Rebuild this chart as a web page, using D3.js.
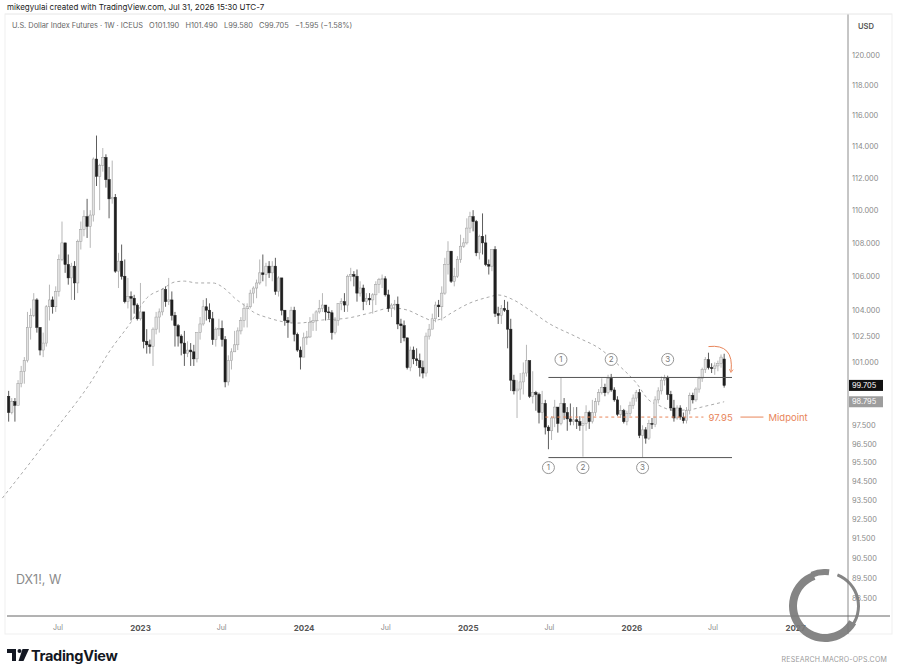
<!DOCTYPE html>
<html>
<head>
<meta charset="utf-8">
<script src="https://cdn.jsdelivr.net/npm/d3@7"></script>
<style>
  html, body { margin: 0; padding: 0; background: #fff; }
  svg { display: block; font-family: Inter, "Open Sans", sans-serif; }
</style>
</head>
<body>
<svg id="chart" width="900" height="670"></svg>
<script>

// weekly DX1! bars, first bar = week of 2022-03-14
const firstWeek = "2022-03-14"
const firstOpen = 99.1
const lastOpen = 101.19

const closes = [
  98.2, 98.8, 98.6, 99.8, 100.5, 101.1, 103.0, 103.7, 104.6, 103.0,
  101.7, 102.1, 104.2, 104.6, 104.2, 105.1, 107.0, 108.0, 106.7, 105.9,
  106.6, 105.6, 108.1, 108.8, 109.6, 109.0, 109.7, 113.2, 112.1, 112.8,
  113.3, 111.9, 110.7, 110.8, 106.3, 106.9, 106.0, 104.5, 104.8, 104.7,
  104.3, 103.5, 103.9, 102.2, 102.0, 101.9, 102.9, 103.6, 103.9, 105.2,
  104.5, 104.6, 103.7, 103.1, 102.5, 102.1, 101.5, 101.7, 101.6, 101.2,
  102.7, 103.2, 104.2, 104.0, 103.5, 102.3, 102.9, 102.95, 102.3, 99.9,
  101.1, 101.6, 102.0, 102.8, 103.4, 104.1, 104.2, 105.0, 105.3, 105.6,
  106.2, 106.1, 106.6, 106.2, 106.6, 105.1, 105.9, 104.0, 103.4, 103.3,
  104.0, 102.6, 101.7, 101.3, 102.4, 102.45, 103.3, 103.4, 103.9, 104.1,
  104.3, 103.9, 103.85, 102.7, 103.4, 104.4, 104.5, 104.3, 106.0, 106.1,
  106.0, 105.0, 105.3, 104.5, 104.7, 104.6, 104.9, 105.5, 105.8, 105.85,
  104.9, 104.1, 104.3, 104.35, 103.2, 103.1, 102.4, 100.7, 101.7, 101.2,
  101.1, 100.7, 100.4, 102.5, 102.9, 103.5, 104.3, 104.2, 105.0, 106.7,
  107.5, 105.7, 106.0, 107.0, 107.8, 108.0, 108.9, 109.6, 109.3, 107.4,
  108.4, 108.0, 106.7, 106.6, 107.6, 103.8, 103.7, 104.1, 104.0, 102.9,
  100.0, 99.4, 99.5, 99.9, 100.4, 101.1, 99.1, 99.3, 99.2, 98.2,
  98.7, 97.4, 97.2, 97.9, 98.5, 97.6, 98.7, 98.2, 97.85, 97.7,
  97.8, 97.7, 97.5, 97.6, 98.2, 97.7, 98.2, 98.8, 99.3, 99.6,
  99.3, 100.1, 99.45, 98.9, 98.1, 98.3, 97.7, 98.15, 98.6, 99.0,
  99.3, 96.95, 97.25, 96.8, 97.6, 97.55, 98.9, 99.4, 100.0, 100.1,
  99.2, 98.45, 97.9, 98.45, 97.95, 97.75, 98.3, 99.15, 98.9, 99.5,
  100.1, 100.6, 101.15, 100.7, 100.65, 100.8, 100.95, 101.3, 99.705
]

const highs = [
  99.4, 99.0, 99.0, 100.0, 100.8, 101.3, 103.9, 104.1, 105.0, 104.7,
  103.0, 102.7, 104.3, 105.5, 104.8, 105.4, 107.3, 109.3, 108.0, 107.3,
  106.8, 106.9, 108.2, 109.3, 110.0, 110.7, 110.0, 113.3, 114.7, 112.9,
  113.9, 113.5, 112.7, 113.1, 111.0, 107.4, 107.9, 107.0, 105.9, 105.1,
  104.9, 104.4, 105.6, 103.9, 102.9, 102.3, 103.0, 103.9, 104.1, 105.3,
  105.4, 105.9, 105.1, 103.9, 103.2, 102.6, 102.8, 102.2, 102.1, 102.0,
  102.7, 103.6, 104.6, 104.7, 104.4, 103.9, 103.0, 103.5, 103.4, 102.5,
  101.4, 101.8, 102.8, 103.0, 103.6, 104.4, 104.4, 105.2, 105.4, 105.8,
  107.0, 107.3, 106.8, 106.9, 106.9, 107.1, 106.0, 105.9, 104.0, 103.6,
  104.2, 104.2, 102.7, 101.9, 102.7, 102.8, 103.6, 103.8, 104.0, 104.6,
  105.0, 104.3, 104.2, 104.0, 103.6, 104.4, 104.7, 105.0, 106.1, 106.5,
  106.3, 106.4, 105.7, 105.5, 105.0, 105.0, 105.0, 105.7, 105.9, 106.1,
  106.0, 105.2, 104.4, 104.6, 104.8, 103.5, 103.4, 102.4, 101.9, 101.9,
  101.8, 101.5, 101.1, 102.7, 103.2, 103.8, 104.5, 104.6, 105.4, 107.1,
  108.1, 107.5, 106.5, 107.2, 108.5, 108.3, 109.5, 109.9, 110.0, 109.4,
  108.5, 109.8, 108.5, 107.0, 107.6, 107.8, 104.2, 104.3, 104.6, 104.5,
  103.5, 100.3, 100.0, 100.4, 101.0, 102.0, 101.1, 100.5, 99.4, 99.3,
  99.4, 98.9, 97.5, 98.0, 98.9, 98.5, 100.15, 99.0, 98.5, 98.7,
  98.5, 98.5, 98.0, 97.9, 98.6, 98.3, 98.9, 99.0, 99.5, 100.1,
  99.8, 100.3, 100.35, 99.6, 99.1, 98.6, 98.4, 98.3, 98.8, 99.2,
  99.45, 99.5, 97.5, 97.4, 97.8, 97.9, 99.1, 99.6, 100.2, 100.3,
  100.25, 99.4, 98.9, 98.6, 98.6, 98.2, 98.5, 99.3, 99.3, 99.6,
  100.2, 100.7, 101.3, 101.55, 100.95, 101.0, 101.1, 101.45, 101.49
]

const lows = [
  97.7, 98.1, 97.7, 98.6, 99.6, 99.8, 101.0, 102.3, 103.6, 102.7,
  101.4, 101.3, 101.9, 103.4, 103.8, 103.9, 104.8, 106.9, 106.2, 105.5,
  104.6, 104.6, 105.0, 107.6, 108.4, 108.3, 107.7, 109.3, 111.5, 110.0,
  112.4, 111.4, 109.5, 110.4, 106.2, 105.3, 105.8, 104.4, 104.1, 103.4,
  103.8, 103.4, 103.4, 101.8, 101.5, 101.5, 100.8, 102.6, 102.7, 103.7,
  104.2, 104.3, 103.4, 101.9, 101.9, 101.4, 100.8, 101.3, 100.8, 100.8,
  101.0, 102.3, 103.1, 103.4, 103.3, 102.0, 101.9, 102.5, 101.9, 99.6,
  99.7, 100.6, 101.6, 101.7, 102.6, 103.0, 103.0, 104.1, 104.4, 104.7,
  105.5, 105.7, 105.4, 105.9, 105.7, 104.9, 104.8, 103.7, 103.1, 102.4,
  103.2, 102.2, 101.6, 100.6, 101.3, 102.0, 102.4, 102.8, 102.8, 103.8,
  103.9, 103.4, 103.5, 102.3, 102.6, 103.1, 104.0, 103.9, 103.9, 105.7,
  105.4, 104.5, 104.8, 104.0, 104.3, 104.3, 103.8, 104.3, 105.0, 105.3,
  104.8, 103.9, 103.6, 104.0, 102.9, 102.1, 102.2, 100.6, 100.5, 100.9,
  100.8, 100.2, 100.1, 100.2, 102.3, 102.9, 103.3, 103.6, 103.4, 104.9,
  106.1, 105.6, 105.4, 105.9, 106.8, 107.7, 107.9, 108.6, 108.7, 107.2,
  107.0, 107.3, 106.6, 106.1, 106.3, 103.6, 103.2, 103.2, 103.9, 101.8,
  99.4, 99.2, 97.9, 98.9, 99.2, 100.2, 99.0, 98.7, 98.3, 97.6,
  97.8, 97.0, 96.2, 96.7, 97.4, 97.1, 97.5, 97.8, 97.2, 97.5,
  97.5, 97.3, 97.2, 95.8, 97.2, 97.3, 97.6, 98.0, 98.6, 99.2,
  99.1, 99.2, 99.35, 98.8, 98.0, 97.9, 97.6, 97.5, 98.0, 98.4,
  98.8, 96.8, 95.75, 96.5, 96.7, 97.3, 97.4, 98.7, 99.2, 99.7,
  98.9, 98.3, 97.7, 97.8, 97.8, 97.6, 97.6, 98.1, 98.7, 98.8,
  99.3, 99.9, 100.4, 100.6, 100.4, 100.3, 100.5, 100.7, 99.58
]

// dashed moving average (bar index, value)
const maWeeks = [-2, 7, 16, 26, 32, 39, 44, 49, 53, 56, 60, 65, 69, 72, 75, 78, 83, 88, 92, 100,
  108, 115, 122, 127, 132, 135, 138, 141, 147, 153, 156, 161, 166, 172, 181, 189, 195, 200, 204, 207,
  212, 217, 222, 228]
const maValues = [93.6, 95.51, 97.51, 99.84, 101.59, 103.31, 104.71, 105.24, 105.66, 105.71, 105.6, 105.6, 105.24, 104.71, 104.3, 103.89, 103.54, 103.31, 103.25, 103.43,
  103.54, 103.83, 104.13, 104.01, 103.6, 103.4, 103.5, 103.83, 104.42, 104.77, 104.89, 104.59, 104.01, 103.25, 102.45, 101.7, 100.74, 99.84, 98.89, 98.61,
  98.32, 98.36, 98.55, 98.795]

// 98.500 sits under the gray MA tag, so it is left out
const priceTicks = [120, 118, 116, 114, 112, 110, 108, 106, 104, 102.5, 101, 97.5, 96.5, 95.5, 94.5, 93.5, 92.5, 91.5, 90.5, 89.5, 88.5]
const timeTicks = ["2022-07-01", "2023-01-01", "2023-07-01", "2024-01-01", "2024-07-01", "2025-01-01", "2025-07-01", "2026-01-01", "2026-07-01", "2027-01-01"]

// range annotation
const rangeTop = 100.15
const rangeBottom = 95.75
const midpoint = 97.95
const rangeFrom = 172, rangeTo = 230.5
const midFrom = 171, midTo = 221.4
const topPivots = [176, 192, 210]
const bottomPivots = [172, 183, 202]
const pivotLabels = ["1", "2", "3"]
const arrowFrom = [223, 101.9], arrowTo = [230.2, 100.5]

const lastPrice = 99.705
const maLast = 98.795

const titleLine = "mikegyulai created with TradingView.com, Jul 31, 2026 15:30 UTC-7"
const legendLine = "U.S. Dollar Index Futures · 1W · ICEUS   O101.190   H101.490   L99.580   C99.705   −1.595 (−1.58%)"

const svg = d3.select('#chart')

const x = d3.scaleUtc()
  .domain([new Date("2023-01-01"), new Date("2027-01-01")])
  .range([140, 795])

const y = d3.scaleLog()
  .domain([120, 88.5])
  .range([55, 598])

const t0 = Date.parse(firstWeek)
const barX = i => x(new Date(t0 + i * 7 * 864e5))

const plotRight = 848, plotTop = 14, plotBottom = 616

// panel frame
svg.append('rect')
  .attr('x', 5).attr('y', 14).attr('width', 887).attr('height', 620)
  .attr('fill', 'none').attr('stroke', '#efefef')

svg.append('text')
  .attr('x', 7).attr('y', 10)
  .attr('font-size', 8).attr('fill', '#222')
  .text(titleLine)

svg.append('text')
  .attr('x', 12).attr('y', 28)
  .attr('font-size', 7.4).attr('fill', '#666')
  .attr('xml:space', 'preserve')
  .style('white-space', 'pre')
  .text(legendLine)

svg.append('clipPath').attr('id', 'plot')
  .append('rect')
  .attr('x', 0).attr('y', plotTop)
  .attr('width', plotRight).attr('height', plotBottom - plotTop)

const plot = svg.append('g').attr('clip-path', 'url(#plot)')

// moving average
const ma = maWeeks.map((w, i) => ({ w: w, v: maValues[i] }))
plot.append('path')
  .datum(ma)
  .attr('fill', 'none')
  .attr('stroke', '#aaa')
  .attr('stroke-width', 1)
  .attr('stroke-dasharray', '3,3')
  .attr('d', d3.line()
    .x(d => barX(d.w))
    .y(d => y(d.v))
    .curve(d3.curveMonotoneX))

// candles
const bars = closes.map((c, i) => ({
  i: i,
  o: i === 0 ? firstOpen : (i === closes.length - 1 ? lastOpen : closes[i - 1]),
  h: highs[i],
  l: lows[i],
  c: c
}))

const bw = 2.4
const candle = plot.selectAll('.candle')
  .data(bars)
  .enter().append('g')
  .attr('class', 'candle')

candle.append('line')
  .attr('x1', d => barX(d.i)).attr('x2', d => barX(d.i))
  .attr('y1', d => y(d.h)).attr('y2', d => y(d.l))
  .attr('stroke', d => d.c >= d.o ? '#a4a4a4' : '#333')
  .attr('stroke-width', 0.8)

candle.append('rect')
  .attr('x', d => barX(d.i) - bw / 2)
  .attr('y', d => y(Math.max(d.o, d.c)))
  .attr('width', bw)
  .attr('height', d => Math.max(0.8, Math.abs(y(d.o) - y(d.c))))
  .attr('fill', d => d.c >= d.o ? '#e2e2e2' : '#1f1f1f')
  .attr('stroke', d => d.c >= d.o ? '#9c9c9c' : '#1f1f1f')
  .attr('stroke-width', 0.5)

// range lines
plot.selectAll('.range')
  .data([rangeTop, rangeBottom])
  .enter().append('line')
  .attr('x1', barX(rangeFrom)).attr('x2', barX(rangeTo))
  .attr('y1', d => y(d)).attr('y2', d => y(d))
  .attr('stroke', '#555').attr('stroke-width', 1)

const orange = '#e8855a'

plot.append('line')
  .attr('x1', barX(midFrom)).attr('x2', barX(midTo))
  .attr('y1', y(midpoint)).attr('y2', y(midpoint))
  .attr('stroke', orange).attr('stroke-width', 1)
  .attr('stroke-dasharray', '3,3')

const midLabelX = barX(midTo) + 5
svg.append('text')
  .attr('x', midLabelX).attr('y', y(midpoint) + 3.5)
  .attr('font-size', 9.5).attr('fill', orange)
  .text(midpoint.toFixed(2))
svg.append('line')
  .attr('x1', midLabelX + 32).attr('x2', midLabelX + 55)
  .attr('y1', y(midpoint)).attr('y2', y(midpoint))
  .attr('stroke', orange).attr('stroke-width', 1)
svg.append('text')
  .attr('x', midLabelX + 60).attr('y', y(midpoint) + 3.5)
  .attr('font-size', 9.5).attr('fill', orange)
  .text('Midpoint')

// circled pivots
function pivot(idx, cy, label) {
  const g = svg.append('g')
  g.append('circle')
    .attr('cx', barX(idx)).attr('cy', cy).attr('r', 6)
    .attr('fill', '#fff').attr('stroke', '#8a8a8a').attr('stroke-width', 0.9)
  g.append('text')
    .attr('x', barX(idx)).attr('y', cy + 2.8)
    .attr('text-anchor', 'middle')
    .attr('font-size', 8).attr('fill', '#777')
    .text(label)
}
topPivots.forEach((p, i) => pivot(p, y(rangeTop) - 18, pivotLabels[i]))
bottomPivots.forEach((p, i) => pivot(p, y(rangeBottom) + 10, pivotLabels[i]))

// orange curved arrow
svg.append('defs').append('marker')
  .attr('id', 'arrowhead')
  .attr('viewBox', '0 0 8 8')
  .attr('refX', 4).attr('refY', 4)
  .attr('markerWidth', 5).attr('markerHeight', 5)
  .attr('orient', 'auto')
  .append('path')
  .attr('d', 'M1,1 L6,4 L1,7')
  .attr('fill', 'none').attr('stroke', orange).attr('stroke-width', 1.3)

const ax0 = barX(arrowFrom[0]), ay0 = y(arrowFrom[1])
const ax1 = barX(arrowTo[0]), ay1 = y(arrowTo[1])
svg.append('path')
  .attr('d', `M${ax0},${ay0} Q${ax1 + 3},${ay0 - 3} ${ax1},${ay1}`)
  .attr('fill', 'none').attr('stroke', orange).attr('stroke-width', 1)
  .attr('marker-end', 'url(#arrowhead)')

// axes lines
svg.append('line')
  .attr('x1', plotRight).attr('x2', plotRight)
  .attr('y1', plotTop).attr('y2', 634)
  .attr('stroke', '#8c8c8c').attr('stroke-width', 1)
svg.append('line')
  .attr('x1', 7).attr('x2', 890)
  .attr('y1', plotBottom).attr('y2', plotBottom)
  .attr('stroke', '#666').attr('stroke-width', 1)
svg.append('line')
  .attr('x1', 5).attr('x2', 892)
  .attr('y1', plotTop).attr('y2', plotTop)
  .attr('stroke', '#eee')

// price axis
const yAxis = svg.append('g')
  .attr('transform', `translate(${plotRight},0)`)
  .call(d3.axisRight(y).tickValues(priceTicks).tickFormat(d3.format('.3f')).tickSize(0).tickPadding(4))
yAxis.select('.domain').remove()
yAxis.selectAll('text')
  .attr('font-size', 7.4).attr('fill', '#8a8a8a')
  .attr('font-family', 'Inter, sans-serif')

svg.append('text')
  .attr('x', 858).attr('y', 29)
  .attr('font-size', 7.6).attr('font-weight', 600).attr('fill', '#555')
  .text('USD')

function priceTag(v, fill) {
  svg.append('rect')
    .attr('x', plotRight + 1).attr('y', y(v) - 5.5)
    .attr('width', 34).attr('height', 11)
    .attr('fill', fill)
  svg.append('text')
    .attr('x', plotRight + 4).attr('y', y(v) + 2.7)
    .attr('font-size', 7.4).attr('fill', '#fff')
    .text(d3.format('.3f')(v))
}
priceTag(maLast, '#9d9d9d')
priceTag(lastPrice, '#111')

// time axis
const xAxis = svg.append('g')
  .attr('transform', `translate(0,${plotBottom})`)
  .call(d3.axisBottom(x)
    .tickValues(timeTicks.map(d => new Date(d)))
    .tickFormat(d => d.getUTCMonth() === 0 ? d.getUTCFullYear() : 'Jul')
    .tickSize(0).tickPadding(9))
xAxis.select('.domain').remove()
xAxis.selectAll('text')
  .attr('font-family', 'Inter, sans-serif')
  .attr('font-size', d => d.getUTCMonth() === 0 ? 8 : 7)
  .attr('font-weight', d => d.getUTCMonth() === 0 ? 700 : 400)
  .attr('fill', d => d.getUTCMonth() === 0 ? '#555' : '#888')

// symbol watermark
svg.append('text')
  .attr('x', 16).attr('y', 584)
  .attr('font-size', 12.5).attr('fill', '#8a8a8a')
  .text('DX1!, W')

// TradingView logo
const logo = svg.append('g').attr('transform', 'translate(7,649)').attr('fill', '#131722')
logo.append('path').attr('d', 'M0,0 H9 V12 H5 V4 H0 Z')
logo.append('circle').attr('cx', 12.5).attr('cy', 2).attr('r', 2)
logo.append('path').attr('d', 'M15.5,0 H22 L16.5,12 H11.5 Z')
svg.append('text')
  .attr('x', 31).attr('y', 661)
  .attr('font-size', 14.5).attr('font-weight', 700).attr('fill', '#131722')
  .attr('letter-spacing', -0.3)
  .text('TradingView')

// macro-ops mark
const mark = svg.append('g').attr('transform', 'translate(825,606)').attr('fill', '#7b7b7b').attr('opacity', 0.92)
mark.append('path')
  .attr('d', d3.arc().innerRadius(32).outerRadius(35).startAngle(0.38).endAngle(2.3)())
mark.append('path')
  .attr('d', d3.arc().innerRadius(28).outerRadius(36).startAngle(2.1).endAngle(2 * Math.PI - 0.35)())
mark.append('path')
  .attr('d', d3.arc().innerRadius(31).outerRadius(37).startAngle(2 * Math.PI - 0.4).endAngle(2 * Math.PI + 0.12)())
svg.append('text')
  .attr('x', 887).attr('y', 662)
  .attr('text-anchor', 'end')
  .attr('font-size', 7).attr('fill', '#9a9a9a')
  .attr('letter-spacing', 0.2)
  .text('RESEARCH.MACRO-OPS.COM')

</script>
</body>
</html>
